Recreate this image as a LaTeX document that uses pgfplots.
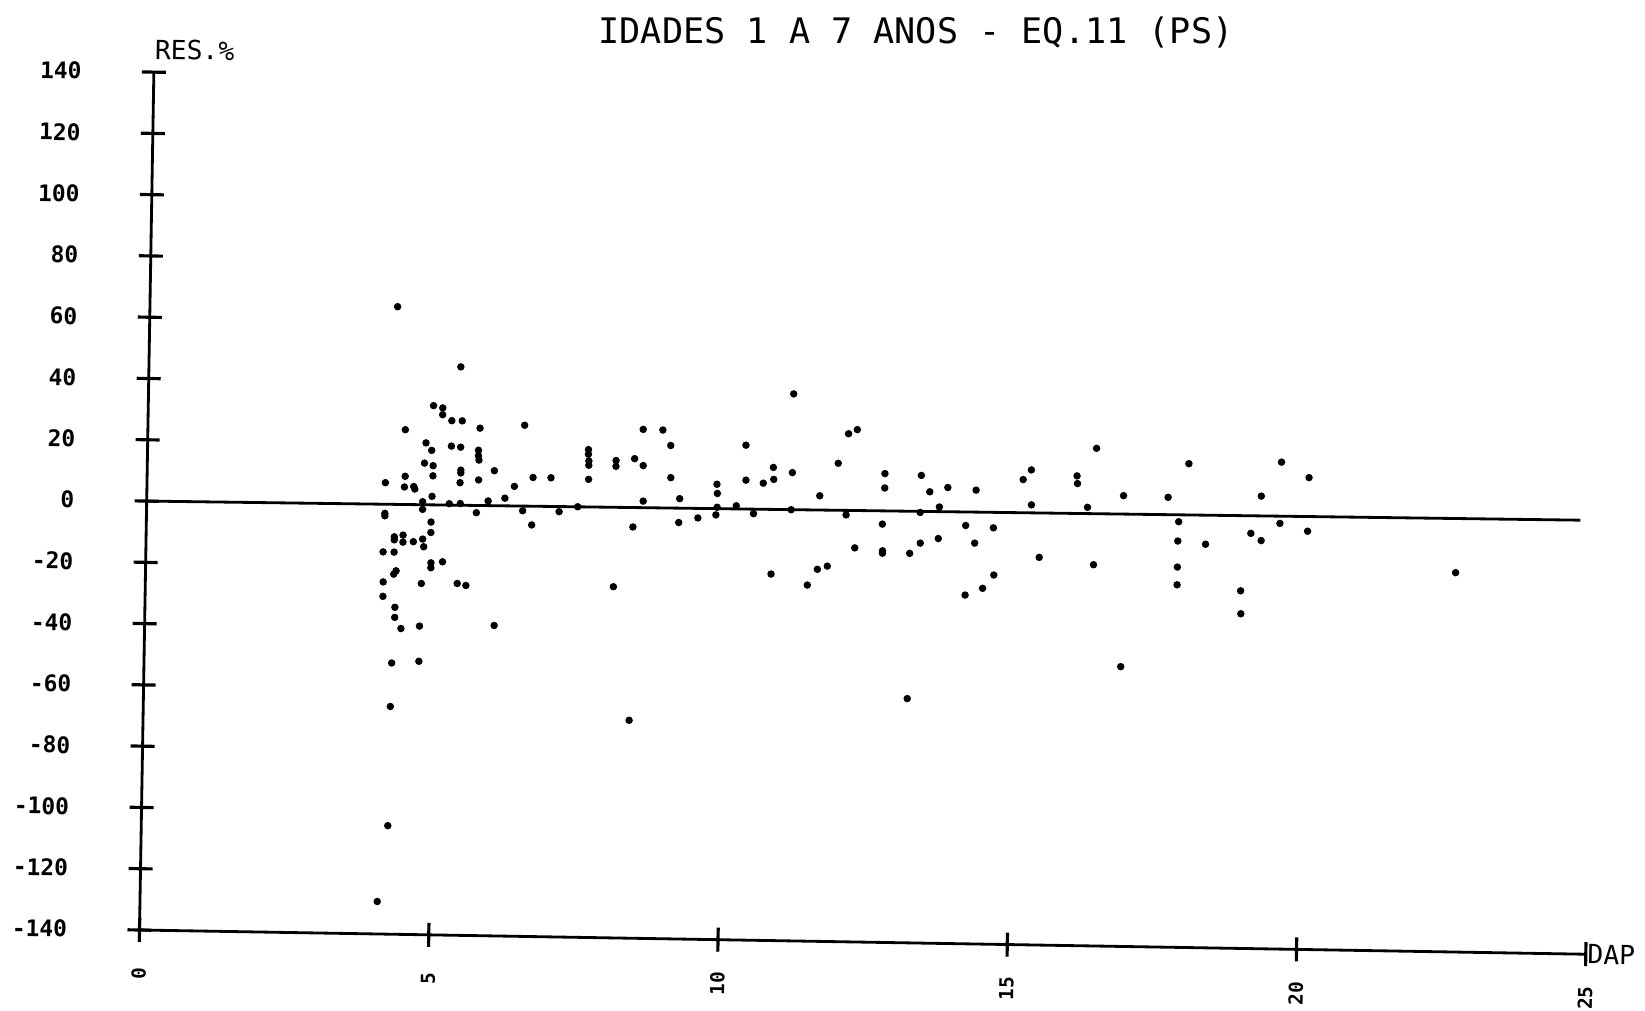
\documentclass[border=0pt]{standalone}
\usepackage{fontspec}
\setmainfont{DejaVu Sans Mono}
\usepackage{pgfplots}
\usepackage{pgfplotstable}
\pgfplotsset{compat=1.18}

\pgfplotstableread{
x y
4.28 64.8
5.39 45.5
4.93 32.7
5.09 32.0
5.09 29.8
5.25 27.9
5.43 27.9
4.45 24.7
5.74 25.6
6.51 26.8
8.56 26.1
8.90 26.0
10.34 21.5
9.04 21.0
4.81 20.5
4.91 18.1
5.25 19.6
5.41 19.3
5.72 18.4
5.72 16.6
5.73 15.2
7.62 19.2
7.62 17.7
7.63 15.5
7.63 14.1
8.10 15.8
8.10 13.9
8.42 16.5
8.57 14.3
4.79 13.9
4.94 13.1
4.94 9.8
5.42 11.8
5.42 10.9
5.41 7.7
6.00 11.8
5.73 8.7
4.12 7.3
4.46 9.5
4.45 6.0
4.61 6.2
4.63 5.4
6.67 9.8
6.98 9.8
7.63 9.5
9.05 10.5
10.35 10.1
6.35 6.8
9.85 8.6
9.86 5.6
9.21 3.7
8.58 2.7
6.19 2.9
4.93 3.1
4.77 1.3
5.23 0.8
5.42 0.9
5.90 1.9
7.45 0.5
9.86 1.1
10.19 1.7
6.50 -1.1
10.49 -0.8
4.12 -2.7
4.12 -3.5
4.77 -1.2
5.70 -2.0
7.13 -1.2
6.66 -5.7
8.41 -5.8
9.20 -4.1
9.53 -2.5
9.84 -1.4
4.92 -5.3
4.92 -8.7
4.29 -10.3
4.29 -11.3
4.44 -9.7
4.44 -12.0
4.62 -11.8
4.78 -10.9
4.80 -13.4
4.10 -15.3
4.29 -15.3
4.93 -18.6
4.93 -20.2
5.13 -18.2
4.29 -22.5
4.33 -21.4
4.11 -25.1
4.77 -25.4
5.39 -25.2
5.54 -25.8
8.09 -25.4
4.11 -29.8
4.32 -33.3
4.32 -36.6
4.43 -40.2
4.75 -39.3
6.04 -38.7
4.28 -51.5
4.75 -50.8
4.27 -65.7
4.26 -104.6
8.40 -68.9
4.10 -129.4
11.15 38.5
12.11 25.8
12.26 27.2
16.40 22.4
18.00 17.9
19.60 18.9
10.82 14.4
10.83 10.5
10.65 9.2
11.15 12.8
11.94 16.1
12.75 13.0
12.75 8.3
13.38 12.6
13.53 7.3
13.84 8.8
14.33 8.1
15.14 11.8
15.28 15.0
15.29 3.6
16.07 13.3
16.08 10.8
16.26 3.1
16.88 7.1
17.65 6.8
19.26 7.7
11.63 5.4
13.70 2.4
12.09 -0.7
13.37 0.5
11.14 0.7
17.84 -1.1
19.59 -1.1
12.72 -3.5
14.16 -3.5
14.64 -4.1
19.09 -4.5
19.27 -6.8
17.83 -7.4
18.31 -8.3
12.25 -11.4
12.73 -12.2
12.73 -13.0
13.20 -12.9
13.38 -9.5
13.69 -7.9
14.32 -9.2
15.44 -13.5
16.38 -15.6
10.81 -20.4
11.44 -23.8
11.61 -18.6
11.78 -17.5
14.17 -26.2
14.47 -23.9
14.66 -19.5
17.83 -15.9
17.83 -21.7
18.93 -23.3
18.94 -30.8
16.88 -48.7
13.20 -60.3
20.08 14.0
20.07 -3.5
22.64 -16.2
}\residuals

\begin{document}
\begin{tikzpicture}
\path[use as bounding box] (-13.95mm,-8mm) rectangle (150.55mm,93mm);
\node[font=\fontsize{10}{12}\selectfont, anchor=center] at (77.65mm,89.8mm) {IDADES 1 A 7 ANOS - EQ.11 (PS)};
\begin{scope}[transform canvas={rotate=-0.96}]
\begin{axis}[
  at={(0,0)}, anchor=south west,
  scale only axis, width=144.65mm, height=85.8mm,
  xmin=0, xmax=25, ymin=-140, ymax=140,
  axis lines=left,
  axis line style={-, line width=0.8pt, black},
  xtick={0,5,...,25}, ytick={-140,-120,...,140},
  tick align=center, major tick length=2.4mm,
  tick style={line width=0.9pt, black},
  /pgf/number format/assume math mode=true,
  yticklabel style={font=\fontsize{6.5}{7}\selectfont\bfseries, anchor=east, xshift=-4.8mm},
  xticklabel style={font=\fontsize{5.5}{6}\selectfont\bfseries, anchor=center, yshift=-3.2mm, rotate=90},
  clip=false,
]
\addplot[only marks, mark=*, mark size=0.85pt, black] table[x=x, y=y] {\residuals};
\addplot[black, line width=0.8pt] coordinates {(0,0) (24.78,1.6)};
\node[anchor=west, font=\fontsize{7.5}{9}\selectfont, inner sep=0.3pt] at (axis cs:25,-140) {DAP};
\node[anchor=south west, font=\fontsize{7.5}{9}\selectfont, inner sep=0pt, yshift=1.2mm] at (axis cs:0,140) {RES.\%};
\end{axis}
\end{scope}
\end{tikzpicture}
\end{document}
